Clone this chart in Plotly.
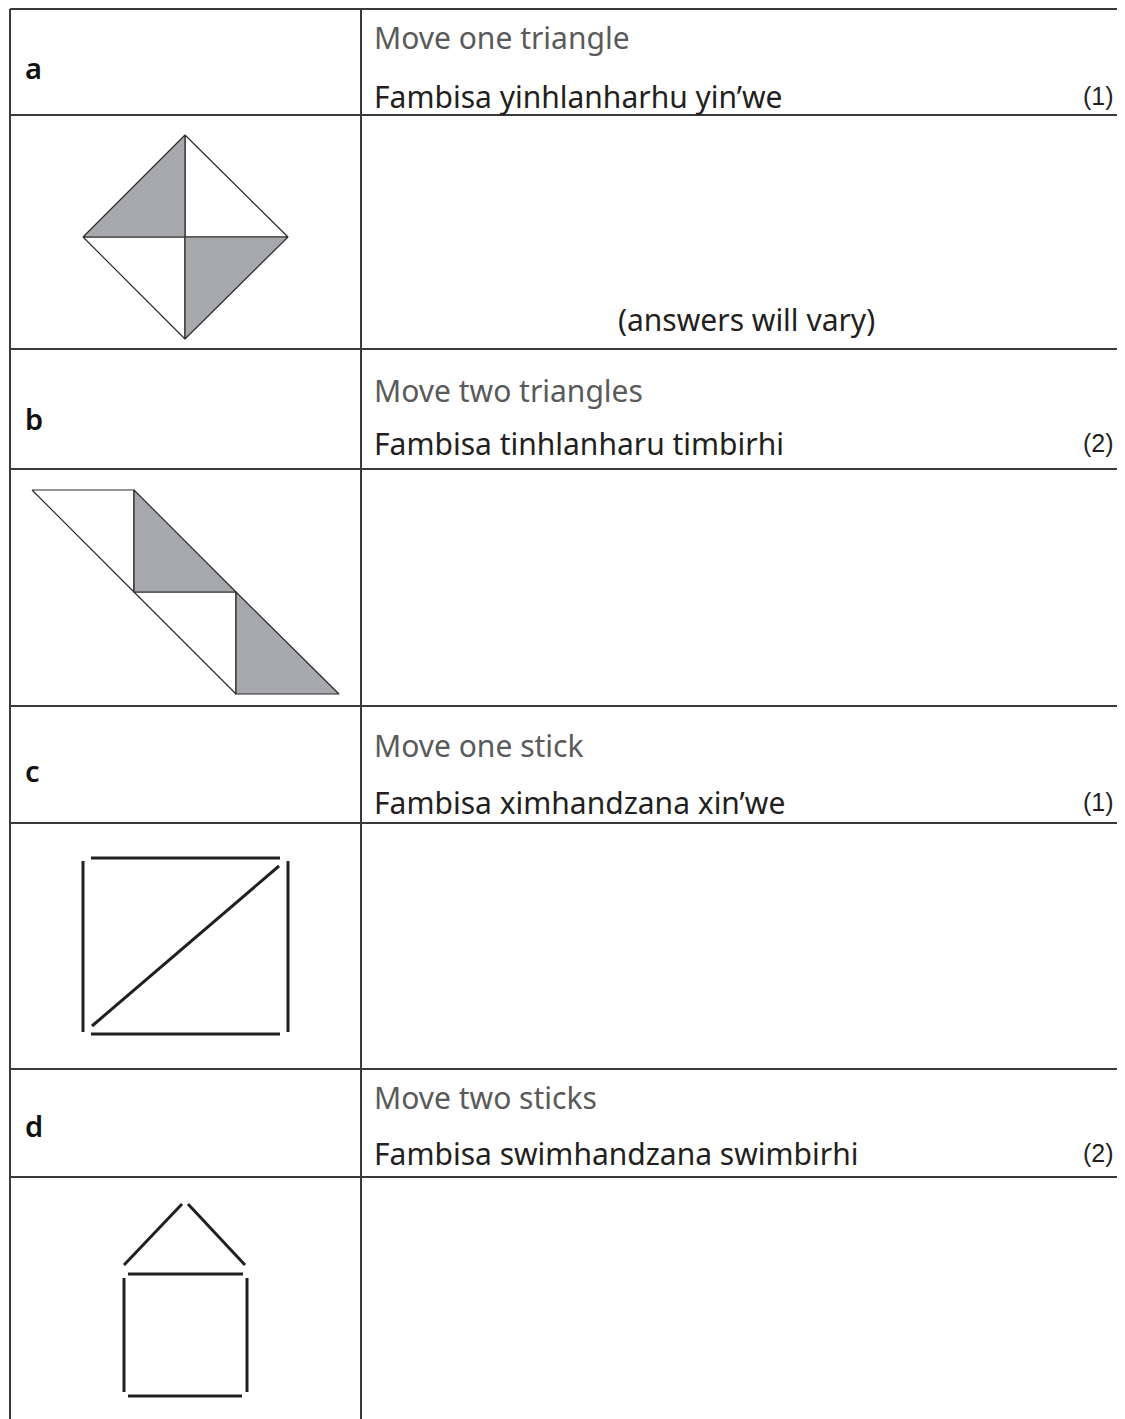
import plotly.graph_objects as go

# ---------------- data ----------------
row_labels = ["a", "b", "c", "d"]
instr_en = ["Move one triangle", "Move two triangles", "Move one stick", "Move two sticks"]
instr_ts = ["Fambisa yinhlanharhu yin’we", "Fambisa tinhlanharu timbirhi",
            "Fambisa ximhandzana xin’we", "Fambisa swimhandzana swimbirhi"]
marks = ["(1)", "(2)", "(1)", "(2)"]
answer_note = "(answers will vary)"

# table row boundaries (top of each text row, bottom of text row, bottom of figure row)
row_tops = [9, 349, 706, 1069]
row_mids = [115, 469, 823, 1177]
row_ends = [349, 706, 1069, 1440]
col_left, col_mid, col_right = 10, 361, 1140

# figure a: diamond split into four triangles
diamond_shaded = [
    [(185, 135), (83, 237), (185, 237)],
    [(185, 237), (288, 237), (185, 339)],
]
diamond_white = [
    [(185, 135), (288, 237), (185, 237)],
    [(83, 237), (185, 339), (185, 237)],
]
# figure b: parallelogram strip of four triangles
strip_shaded = [
    [(134, 490), (134, 592), (236, 592)],
    [(236, 592), (236, 694), (339, 694)],
]
strip_white = [
    [(32, 490), (134, 490), (134, 592)],
    [(134, 592), (236, 592), (236, 694)],
]
# figure c: sticks
sticks_c = [
    [(91, 858), (280, 858)],
    [(91, 1034), (280, 1034)],
    [(83, 861), (83, 1032)],
    [(288, 861), (288, 1032)],
    [(92, 1026), (279, 866)],
]
# figure d: house of sticks
sticks_d = [
    [(124, 1265), (182, 1204)],
    [(188, 1204), (245, 1265)],
    [(128, 1274), (243, 1274)],
    [(124, 1278), (124, 1392)],
    [(247, 1278), (247, 1392)],
    [(128, 1396), (242, 1396)],
]

# ---------------- figure ----------------
fig = go.Figure()

def tri(pts, fill):
    xs = [p[0] for p in pts] + [pts[0][0]]
    ys = [p[1] for p in pts] + [pts[0][1]]
    fig.add_trace(go.Scatter(x=xs, y=ys, mode="lines", fill="toself",
                             fillcolor=fill, line=dict(color="#2a2a2a", width=1.2),
                             hoverinfo="skip", showlegend=False))

for t in diamond_white + strip_white:
    tri(t, "white")
for t in diamond_shaded + strip_shaded:
    tri(t, "#a7a8ab")

for s in sticks_c + sticks_d:
    fig.add_trace(go.Scatter(x=[s[0][0], s[1][0]], y=[s[0][1], s[1][1]], mode="lines",
                             line=dict(color="#231f20", width=3),
                             hoverinfo="skip", showlegend=False))

shapes = []
grid = dict(color="#3a3a3a", width=2)
for y in row_tops + row_mids:
    shapes.append(dict(type="line", xref="x", yref="y", x0=col_left, x1=col_right,
                       y0=y, y1=y, line=grid))
for x in [col_left, col_mid]:
    shapes.append(dict(type="line", xref="x", yref="y", x0=x, x1=x,
                       y0=row_tops[0], y1=row_ends[-1], line=grid))

annotations = []
en_off = [28, 41, 39, 28]
ts_off = [87, 94, 96, 84]
lab_y = [67, 418, 770, 1125]
for i in range(4):
    top = row_tops[i]
    annotations.append(dict(x=23, y=lab_y[i], text=row_labels[i], showarrow=False,
                            xanchor="left", yanchor="middle",
                            font=dict(family="Noto Sans", size=29, color="#111111",
                                      weight=600)))
    annotations.append(dict(x=372, y=top + en_off[i], text=instr_en[i], showarrow=False,
                            xanchor="left", yanchor="middle",
                            font=dict(family="Noto Sans", size=30, color="#5a5a5a")))
    annotations.append(dict(x=372, y=top + ts_off[i], text=instr_ts[i], showarrow=False,
                            xanchor="left", yanchor="middle",
                            font=dict(family="Noto Sans", size=30, color="#231f20")))
    annotations.append(dict(x=1116, y=top + ts_off[i], text=marks[i], showarrow=False,
                            xanchor="right", yanchor="middle",
                            font=dict(family="Liberation Sans", size=25, color="#231f20")))

annotations.append(dict(x=746, y=319, text=answer_note, showarrow=False,
                        xanchor="center", yanchor="middle",
                        font=dict(family="Noto Sans", size=30, color="#231f20")))

# page body has an 8px margin: offset the axis ranges so data units equal page pixels
fig.update_layout(
    width=1125, height=1419,
    margin=dict(l=0, r=0, t=0, b=0),
    paper_bgcolor="white", plot_bgcolor="white",
    xaxis=dict(range=[8, 1133], visible=False, fixedrange=True),
    yaxis=dict(range=[1427, 8], visible=False, fixedrange=True),
    shapes=shapes, annotations=annotations,
)

fig.write_html("out.html")
